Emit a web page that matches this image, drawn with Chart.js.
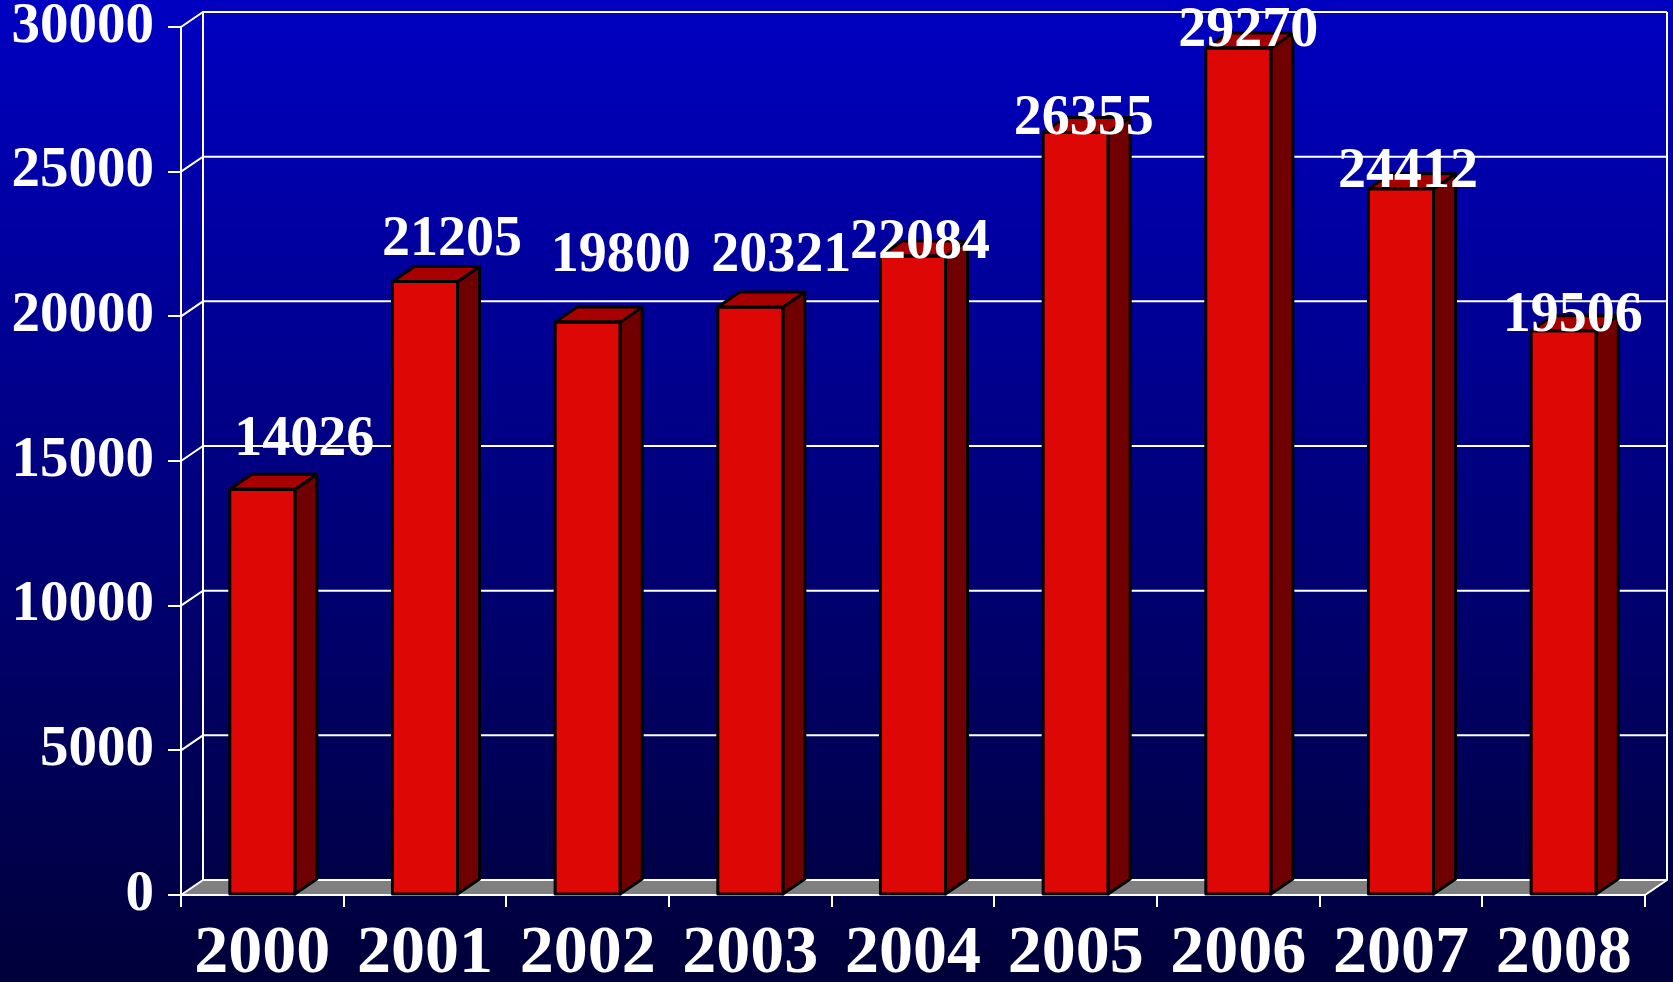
<!DOCTYPE html>
<html>
<head>
<meta charset="utf-8">
<title>Bar chart 2000-2008</title>
<script src="https://cdn.jsdelivr.net/npm/chart.js@4.4.1/dist/chart.umd.min.js"></script>
<style>
    html, body { margin: 0; padding: 0; background: #00003c; }
    canvas { display: block; }
</style>
</head>
<body>
<canvas id="barChart" width="1673" height="982"></canvas>
<script>
// DATA
const years = ["2000", "2001", "2002", "2003", "2004", "2005", "2006", "2007", "2008"];
const values = [14026, 21205, 19800, 20321, 22084, 26355, 29270, 24412, 19506];
const yTicks = [0, 5000, 10000, 15000, 20000, 25000, 30000];

// little nudges for the value labels (they don't sit at the same spot on every bar)
const labelShiftX = [42, 27, 33, 31, 7, 8, 10, 7, 9];
const labelShiftY = [-49, -41, -66, -51, -13, -13, -17, -16, -14];

// 3D depth of walls and bars
const DX = 22;
const DY = 15;

const serif = "'Liberation Serif', 'Times New Roman', serif";

// BACKGROUND + WALLS + FLOOR
const backdrop = {
    id: "backdrop",
    beforeDraw(chart) {
        const ctx = chart.ctx;
        const { left, right, top, bottom } = chart.chartArea;
        const y = chart.scales.y;

        ctx.save();
        const g = ctx.createLinearGradient(0, 0, 0, chart.height);
        g.addColorStop(0, "#0000c2");
        g.addColorStop(1, "#00003a");
        ctx.fillStyle = g;
        ctx.fillRect(0, 0, chart.width, chart.height);

        // floor
        ctx.fillStyle = "#808080";
        ctx.beginPath();
        ctx.moveTo(left, bottom);
        ctx.lineTo(left + DX, bottom - DY);
        ctx.lineTo(right + DX, bottom - DY);
        ctx.lineTo(right, bottom);
        ctx.closePath();
        ctx.fill();

        ctx.strokeStyle = "#ffffff";
        ctx.lineWidth = 2;

        // grid lines: left wall diagonal + back wall
        yTicks.forEach(v => {
            const py = y.getPixelForValue(v);
            ctx.beginPath();
            ctx.moveTo(left, py);
            ctx.lineTo(left + DX, py - DY);
            ctx.lineTo(right + DX, py - DY);
            ctx.stroke();
        });

        // back wall edges
        ctx.beginPath();
        ctx.moveTo(left + DX, top - DY);
        ctx.lineTo(left + DX, bottom - DY);
        ctx.moveTo(right + DX, top - DY);
        ctx.lineTo(right + DX, bottom - DY);
        ctx.lineTo(right, bottom);
        ctx.stroke();
        ctx.restore();
    }
};

// SIDE AND TOP FACES OF BARS
const bars3d = {
    id: "bars3d",
    afterDatasetsDraw(chart) {
        const ctx = chart.ctx;
        chart.getDatasetMeta(0).data.forEach(bar => {
            const l = bar.x - bar.width / 2;
            const r = bar.x + bar.width / 2;
            const t = bar.y;
            const b = bar.base;

            ctx.save();
            ctx.lineWidth = 3;
            ctx.strokeStyle = "#000000";
            ctx.lineJoin = "round";

            ctx.fillStyle = "#700000";
            ctx.beginPath();
            ctx.moveTo(r, b);
            ctx.lineTo(r + DX, b - DY);
            ctx.lineTo(r + DX, t - DY);
            ctx.lineTo(r, t);
            ctx.closePath();
            ctx.fill();
            ctx.stroke();

            ctx.fillStyle = "#a80000";
            ctx.beginPath();
            ctx.moveTo(l, t);
            ctx.lineTo(l + DX, t - DY);
            ctx.lineTo(r + DX, t - DY);
            ctx.lineTo(r, t);
            ctx.closePath();
            ctx.fill();
            ctx.stroke();

            ctx.strokeRect(l, t, r - l, b - t);
            ctx.restore();
        });
    }
};

// VALUE LABELS
const valueLabels = {
    id: "valueLabels",
    afterDraw(chart) {
        const ctx = chart.ctx;
        ctx.save();
        ctx.font = "bold 56px " + serif;
        ctx.fillStyle = "#ffffff";
        ctx.textAlign = "center";
        ctx.textBaseline = "middle";
        chart.getDatasetMeta(0).data.forEach((bar, i) => {
            ctx.fillText(String(values[i]), bar.x + labelShiftX[i], bar.y + labelShiftY[i]);
        });
        ctx.restore();
    }
};

// CHART
new Chart(document.getElementById("barChart"), {
    type: "bar",
    data: {
        labels: years,
        datasets: [{
            data: values,
            backgroundColor: "#dd0806",
            borderColor: "#000000",
            borderWidth: 0,
            categoryPercentage: 1,
            barPercentage: 0.4
        }]
    },
    options: {
        responsive: false,
        animation: false,
        layout: { padding: { top: 27, right: 28, left: 0, bottom: 0 } },
        plugins: {
            legend: { display: false },
            tooltip: { enabled: false }
        },
        scales: {
            x: {
                grid: {
                    display: true,
                    drawOnChartArea: false,
                    drawTicks: true,
                    tickLength: 12,
                    color: "#ffffff",
                    lineWidth: 2,
                    offset: true
                },
                border: { display: true, color: "#ffffff", width: 2 },
                ticks: {
                    color: "#ffffff",
                    font: { family: serif, size: 68, weight: "bold" },
                    padding: 7,
                    maxRotation: 0,
                    autoSkip: false
                },
                afterFit(scale) {
                    scale.height = 87;
                    scale.paddingLeft = 0;
                    scale.paddingRight = 0;
                }
            },
            y: {
                min: 0,
                max: 30000,
                grid: {
                    display: true,
                    drawOnChartArea: false,
                    drawTicks: true,
                    tickLength: 13,
                    color: "#ffffff",
                    lineWidth: 2
                },
                border: { display: true, color: "#ffffff", width: 2 },
                ticks: {
                    color: "#ffffff",
                    font: { family: serif, size: 57, weight: "bold" },
                    padding: 14,
                    callback: v => String(v)
                },
                afterBuildTicks(scale) {
                    scale.ticks = yTicks.map(v => ({ value: v }));
                },
                afterFit(scale) {
                    scale.width = 181;
                    scale.paddingTop = 0;
                    scale.paddingBottom = 0;
                }
            }
        }
    },
    plugins: [backdrop, bars3d, valueLabels]
});
</script>
</body>
</html>
